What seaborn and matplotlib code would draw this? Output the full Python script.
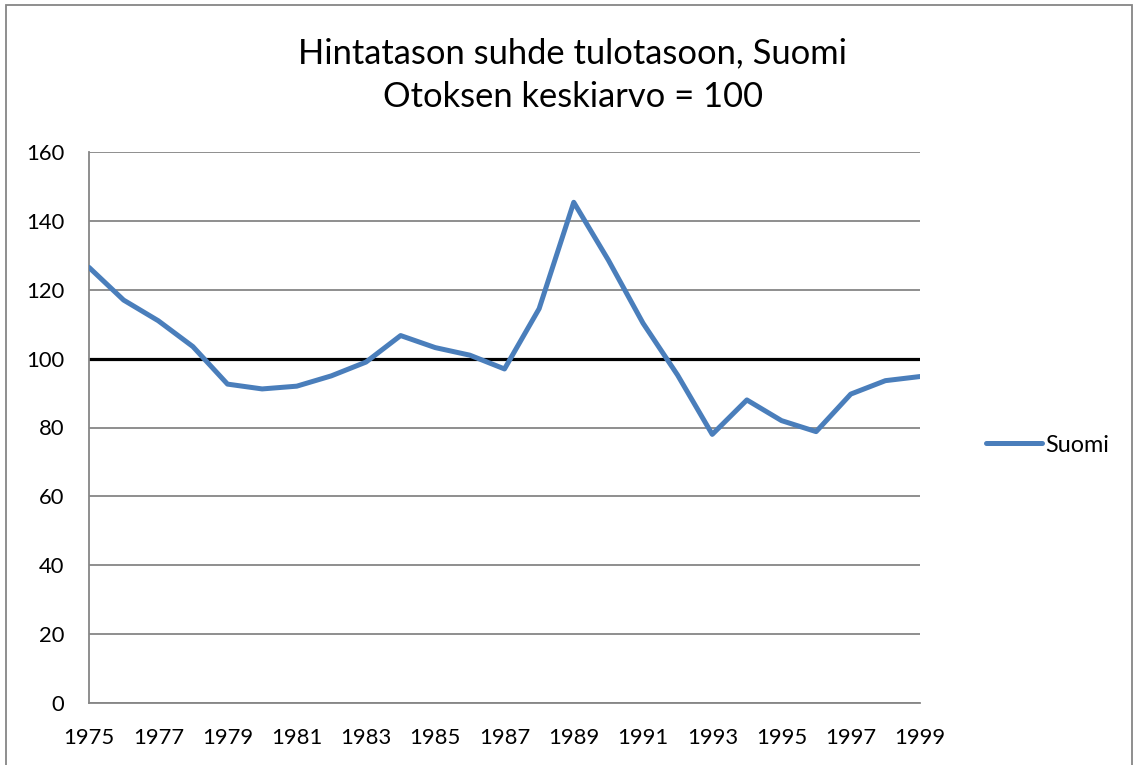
import matplotlib
matplotlib.use("Agg")
import matplotlib.pyplot as plt
import seaborn as sns
import pandas as pd
from matplotlib.patches import Rectangle
from matplotlib.lines import Line2D

years = list(range(1975, 2000))
suomi = [126.5, 117, 111, 103.5, 92.6, 91.2, 92, 95, 99, 106.7, 103.2, 101, 97,
         114.5, 145.4, 128.6, 110.3, 95.2, 78, 88, 82, 78.8, 89.7, 93.6, 94.8]
series_name = "Suomi"
title_line1 = "Hintatason suhde tulotasoon, Suomi"
title_line2 = "Otoksen keskiarvo = 100"
reference_value = 100
y_ticks = [0, 20, 40, 60, 80, 100, 120, 140, 160]
x_label_years = list(range(1975, 2000, 2))

sns.set_theme(style="white")
plt.rcParams['font.family'] = ['Lato', 'DejaVu Sans']
plt.rcParams['text.color'] = 'black'

df = pd.DataFrame({"Vuosi": years, "Arvo": suomi})

fig = plt.figure(figsize=(11.35, 7.65), dpi=100)
ax = fig.add_axes([89/1135, 1-703/765, (920-89)/1135, (703-152)/765])

grid_c = "#868686"
line_c = "#4A7EBB"
for v in y_ticks:
    ax.axhline(v, color=grid_c, lw=1.3, zorder=1)
ax.axhline(reference_value, color="black", lw=2.3, zorder=2)

sns.lineplot(data=df, x="Vuosi", y="Arvo", ax=ax, color=line_c, lw=3.6,
             zorder=3, legend=False, solid_capstyle="round")

ax.set_xlim(1975, 1999)
ax.set_ylim(0, 160)
ax.set_yticks(y_ticks)
ax.set_yticklabels([str(v) for v in y_ticks])
ax.set_xticks(x_label_years)
ax.set_xticklabels([str(y) for y in x_label_years])
ax.set_xlabel("")
ax.set_ylabel("")
for s in ["top", "right"]:
    ax.spines[s].set_visible(False)
for s in ["left", "bottom"]:
    ax.spines[s].set_color(grid_c)
    ax.spines[s].set_linewidth(1.3)
ax.tick_params(axis="both", which="major", direction="out", length=6, width=1.3,
               color=grid_c, labelsize=15.8, labelcolor="black")
ax.tick_params(axis="y", pad=12)
ax.tick_params(axis="x", pad=12)

fig.text(573/1135, 1-53/765, title_line1, ha="center", va="center", fontsize=24.8,
         color="black")
fig.text(573/1135, 1-97/765, title_line2, ha="center", va="center", fontsize=24.8,
         color="black")

# legend
handle = Line2D([0], [0], color=line_c, lw=3.6, solid_capstyle="round")
fig.legend([handle], [series_name], loc="center left",
           bbox_to_anchor=(986/1135, 1-445/765), frameon=False, fontsize=16.8,
           handlelength=2.4, handletextpad=0.15, borderaxespad=0,
           borderpad=0)

fig.patches.append(Rectangle((6/1135, -0.01), (1132-6)/1135, 1.01-5/765,
                             transform=fig.transFigure, fill=False,
                             edgecolor="#868686", lw=1.3))

fig.savefig("out.png", dpi=100)
